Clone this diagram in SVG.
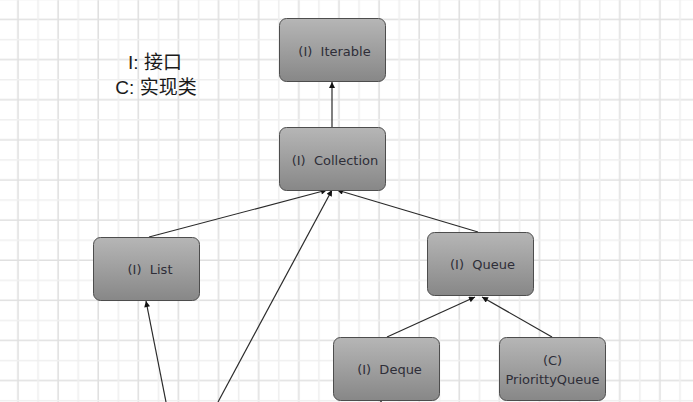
<svg xmlns="http://www.w3.org/2000/svg" width="693" height="402" viewBox="0 0 693 402">
<style>
.box{fill:url(#g);stroke:#4d4d4d;stroke-width:1}
.lbl{font-family:"DejaVu Sans",sans-serif;font-size:13px;fill:#2e2e38;text-anchor:middle;white-space:pre}
.leg{font-family:"Liberation Sans","Noto Sans CJK SC",sans-serif;font-size:19px;fill:#1a1a1a;text-anchor:middle}
.edge{stroke:#2a2a2a;stroke-width:1.2;fill:none;marker-end:url(#arr)}
</style>
<defs>
<linearGradient id="g" x1="0" y1="0" x2="0" y2="1">
<stop offset="0" stop-color="#b6b6b6"/>
<stop offset="1" stop-color="#878787"/>
</linearGradient>
<pattern id="grid" patternUnits="userSpaceOnUse" x="8" y="9.5" width="40.12" height="40.12">
<path d="M10,0V40.12M0,10H40.12" stroke="#e0e0e0" stroke-width="1.6"/>
<path d="M30.06,0V40.12M0,30.06H40.12" stroke="#efefef" stroke-width="1.6"/>
</pattern>
<marker id="arr" viewBox="0 0 10 10" refX="10" refY="5" markerWidth="7" markerHeight="6" markerUnits="userSpaceOnUse" orient="auto">
<path d="M0,0L10,5L0,10z" fill="#111"/>
</marker>
</defs>
<rect width="693" height="402" fill="#ffffff"/>
<rect width="693" height="402" fill="url(#grid)"/>
<g id="legend">
<text class="leg" x="155" y="69">I: 接口</text>
<text class="leg" x="156" y="94">C: 实现类</text>
</g>
<g id="connectors">
<path class="edge" d="M332,127L332,82"/>
<path class="edge" d="M149,237L327,190"/>
<path class="edge" d="M218,402L332,190"/>
<path class="edge" d="M478,232L337,190"/>
<path class="edge" d="M166,402L146,301"/>
<path class="edge" d="M387,337L475,297"/>
<path class="edge" d="M552,337L482,297"/>
<path class="edge" d="M381,420L381,401"/>
</g>
<g id="iterable">
<rect class="box" x="279.5" y="18.5" width="106" height="63" rx="7"/>
<text class="lbl" x="334.5" y="56" xml:space="preserve">(I)  Iterable</text>
</g>
<g id="collection">
<rect class="box" x="279.5" y="127.5" width="106" height="63" rx="7"/>
<text class="lbl" x="335" y="165" xml:space="preserve">(I)  Collection</text>
</g>
<g id="list">
<rect class="box" x="93.5" y="237.5" width="106" height="63" rx="7"/>
<text class="lbl" x="150" y="273.5" xml:space="preserve">(I)  List</text>
</g>
<g id="queue">
<rect class="box" x="427.5" y="232.5" width="106" height="63" rx="7"/>
<text class="lbl" x="482.5" y="269" xml:space="preserve">(I)  Queue</text>
</g>
<g id="deque">
<rect class="box" x="333.5" y="337.5" width="106" height="63" rx="7"/>
<text class="lbl" x="389.5" y="374" xml:space="preserve">(I)  Deque</text>
</g>
<g id="priorityqueue">
<rect class="box" x="499.5" y="337.5" width="106" height="63" rx="7"/>
<text class="lbl" x="552.5" y="365">(C)</text>
<text class="lbl" x="552.5" y="384">PriorittyQueue</text>
</g>
</svg>
